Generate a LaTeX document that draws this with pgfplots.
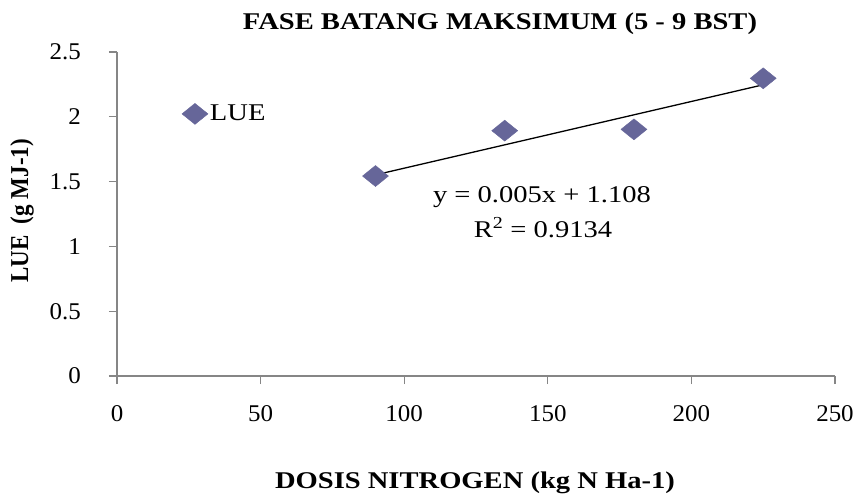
\documentclass[border=0pt]{standalone}
\usepackage{fontspec}
\setmainfont{Liberation Serif}
\newfontfamily\tnr{Liberation Serif}[FakeStretch=1.19]
\newfontfamily\tnrt{Liberation Serif}[FakeStretch=1.04]
\usepackage{graphicx}
\usepackage{pgfplots}
\pgfplotsset{compat=1.18}
\pgfplotsset{diamleg/.style={legend image code/.code={\draw[##1] plot coordinates {(13pt,0pt)};}}}
\definecolor{mk}{RGB}{102,102,153}
\definecolor{axc}{RGB}{134,134,134}
\newcommand\tf{\tnr\fontsize{24}{28}\selectfont}
\newcommand\tickf{\tnrt\fontsize{24}{28}\selectfont}
\begin{document}
\begin{tikzpicture}[x=1pt,y=1pt]
\path[use as bounding box] (-117,-117) rectangle (740,376);
\begin{axis}[
  at={(0,0)}, anchor=south west, scale only axis,
  width=718pt, height=324pt,
  xmin=0, xmax=250, ymin=0, ymax=2.5,
  axis lines=left,
  axis line style={-, axc, line width=1.3pt},
  xtick={0,50,100,150,200,250},
  ytick={0,0.5,1,1.5,2,2.5},
  tick style={axc, line width=1.3pt},
  tick align=outside, major tick length=8pt,
  /pgf/number format/assume math mode=true,
  ticklabel style={font=\tickf},
  xticklabel style={inner sep=0pt, anchor=north, yshift=-21pt},
  yticklabel style={inner sep=0pt, anchor=east, xshift=-28pt},
  clip=false,
  legend style={at={(0.0905,0.809)}, anchor=west, draw=none, fill=none,
    inner sep=0pt, outer sep=0pt, font=\tf, legend cell align=left},
]
\addplot[only marks, mark=diamond*, mark size=10.5pt,
  mark options={fill=mk, draw=mk, xscale=1.65}, diamleg]
  coordinates {(90,1.543) (135,1.893) (180,1.903) (225,2.297)};
\addlegendentry{LUE}
\addplot[black, line width=1.3pt, forget plot]
  coordinates {(90,1.552) (225,2.247)};
\end{axis}
\node[anchor=base, font=\tnr\bfseries\fontsize{24}{28}\selectfont] at (383,346) {FASE BATANG MAKSIMUM (5 - 9 BST)};
\node[anchor=base, font=\tnr\bfseries\fontsize{24}{28}\selectfont] at (358,-112) {DOSIS NITROGEN (kg N Ha-1)};
\node[rotate=90, font=\bfseries\fontsize{23}{27}\selectfont] at (-95,165) {\scalebox{1}[1.12]{LUE\ \ (g MJ-1)}};
\node[anchor=base, font=\tf] at (425,173) {y = 0.005x + 1.108};
\node[anchor=base, font=\tf] at (426,138) {R\textsuperscript{2} = 0.9134};
\end{tikzpicture}
\end{document}
